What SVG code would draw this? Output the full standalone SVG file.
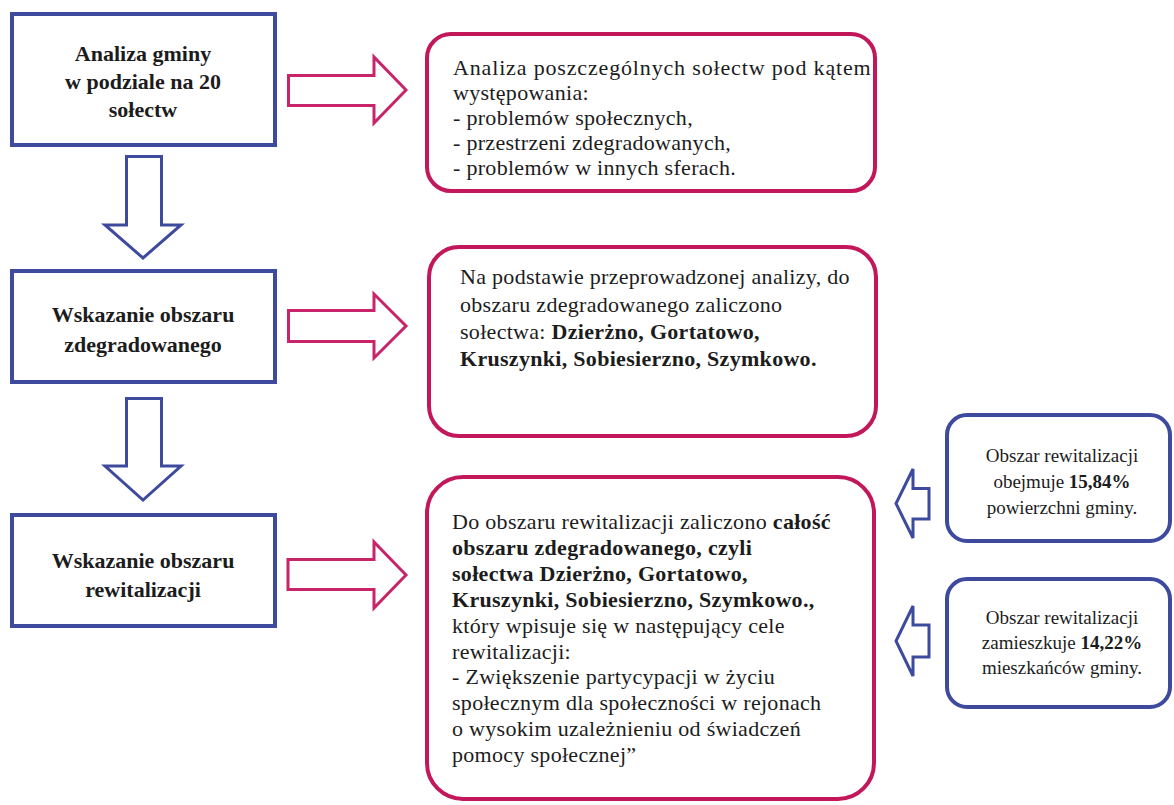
<svg xmlns="http://www.w3.org/2000/svg" width="1174" height="805" viewBox="0 0 1174 805">
<style>
.bg{fill:#ffffff}
.bbox{fill:#ffffff;stroke:#3d4a9e;stroke-width:4}
.pbox{fill:#ffffff;stroke:#c2185b;stroke-width:4}
.parr{fill:#ffffff;stroke:#c8246a;stroke-width:3;stroke-linejoin:miter}
.barr{fill:#ffffff;stroke:#3d4a9e;stroke-width:3;stroke-linejoin:miter}
text{font-family:"Liberation Serif","DejaVu Serif",serif;fill:#1c1c1c}
.lt{font-size:22px;font-weight:bold;text-anchor:middle}
.bt{font-size:22px;letter-spacing:0.3px}
.st{font-size:19px;text-anchor:middle}
.b{font-weight:bold}
</style>
<rect class="bg" x="0" y="0" width="1174" height="805"/>

<g id="connectors">
<polygon class="parr" points="288.5,75.5 374,75.5 374,57 406,90 374,123 374,105.5 288.5,105.5"/>
<polygon class="parr" points="288.5,310.5 374,310.5 374,294 406,326 374,358 374,341.5 288.5,341.5"/>
<polygon class="parr" points="288,559.5 374,559.5 374,542 406,575 374,608 374,589.5 288,589.5"/>
<polygon class="barr" points="126.5,156.5 161.5,156.5 161.5,225 181,225 143,258 105,225 126.5,225"/>
<polygon class="barr" points="126.5,398.5 161.5,398.5 161.5,466 181,466 143,500 105,466 126.5,466"/>
<polygon class="barr" points="929,488.5 913,488.5 913,469 896,503.5 913,538 913,519 929,519"/>
<polygon class="barr" points="929,625 913,625 913,606 896,641 913,676 913,657 929,657"/>
</g>

<g id="node-analiza-gminy">
<rect class="bbox" x="12" y="14" width="263" height="131"/>
<text class="lt" x="143" y="61">Analiza gminy</text>
<text class="lt" x="143" y="89">w podziale na 20</text>
<text class="lt" x="143" y="117">sołectw</text>
</g>

<g id="node-wskazanie-zdegradowanego">
<rect class="bbox" x="12" y="271" width="263" height="111"/>
<text class="lt" x="143" y="322">Wskazanie obszaru</text>
<text class="lt" x="143" y="352">zdegradowanego</text>
</g>

<g id="node-wskazanie-rewitalizacji">
<rect class="bbox" x="12" y="515" width="263" height="111"/>
<text class="lt" x="143" y="568">Wskazanie obszaru</text>
<text class="lt" x="143" y="597">rewitalizacji</text>
</g>

<g id="node-analiza-solectw">
<rect class="pbox" x="427" y="34" width="448" height="157" rx="24" ry="24"/>
<text class="bt" x="453" y="75" textLength="418">Analiza poszczególnych sołectw pod kątem</text>
<text class="bt" x="453" y="100">występowania:</text>
<text class="bt" x="453" y="125">- problemów społecznych,</text>
<text class="bt" x="453" y="150">- przestrzeni zdegradowanych,</text>
<text class="bt" x="453" y="175">- problemów w innych sferach.</text>
</g>

<g id="node-obszar-zdegradowany">
<rect class="pbox" x="429" y="247" width="447" height="189" rx="30" ry="30"/>
<text class="bt" x="460" y="284">Na podstawie przeprowadzonej analizy, do</text>
<text class="bt" x="460" y="312">obszaru zdegradowanego zaliczono</text>
<text class="bt" x="460" y="339">sołectwa: <tspan class="b">Dzierżno, Gortatowo,</tspan></text>
<text class="bt b" x="460" y="366">Kruszynki, Sobiesierzno, Szymkowo.</text>
</g>

<g id="node-obszar-rewitalizacji">
<rect class="pbox" x="427" y="477" width="447" height="322" rx="36" ry="36"/>
<text class="bt" x="452" y="529">Do obszaru rewitalizacji zaliczono <tspan class="b">całość</tspan></text>
<text class="bt b" x="452" y="555">obszaru zdegradowanego, czyli</text>
<text class="bt b" x="452" y="581">sołectwa Dzierżno, Gortatowo,</text>
<text class="bt b" x="452" y="607">Kruszynki, Sobiesierzno, Szymkowo.,</text>
<text class="bt" x="452" y="633">który wpisuje się w następujący cele</text>
<text class="bt" x="452" y="659">rewitalizacji:</text>
<text class="bt" x="452" y="684">- Zwiększenie partycypacji w życiu</text>
<text class="bt" x="452" y="710">społecznym dla społeczności w rejonach</text>
<text class="bt" x="452" y="736">o wysokim uzależnieniu od świadczeń</text>
<text class="bt" x="452" y="762">pomocy społecznej”</text>
</g>

<g id="node-powierzchnia">
<rect class="bbox" x="947" y="415" width="223" height="126" rx="20" ry="20"/>
<text class="st" x="1062" y="462">Obszar rewitalizacji</text>
<text class="st" x="1062" y="488">obejmuje <tspan class="b">15,84%</tspan></text>
<text class="st" x="1062" y="514">powierzchni gminy.</text>
</g>

<g id="node-mieszkancy">
<rect class="bbox" x="947" y="579" width="223" height="128" rx="20" ry="20"/>
<text class="st" x="1062" y="624">Obszar rewitalizacji</text>
<text class="st" x="1062" y="649">zamieszkuje <tspan class="b">14,22%</tspan></text>
<text class="st" x="1062" y="674">mieszkańców gminy.</text>
</g>
</svg>
